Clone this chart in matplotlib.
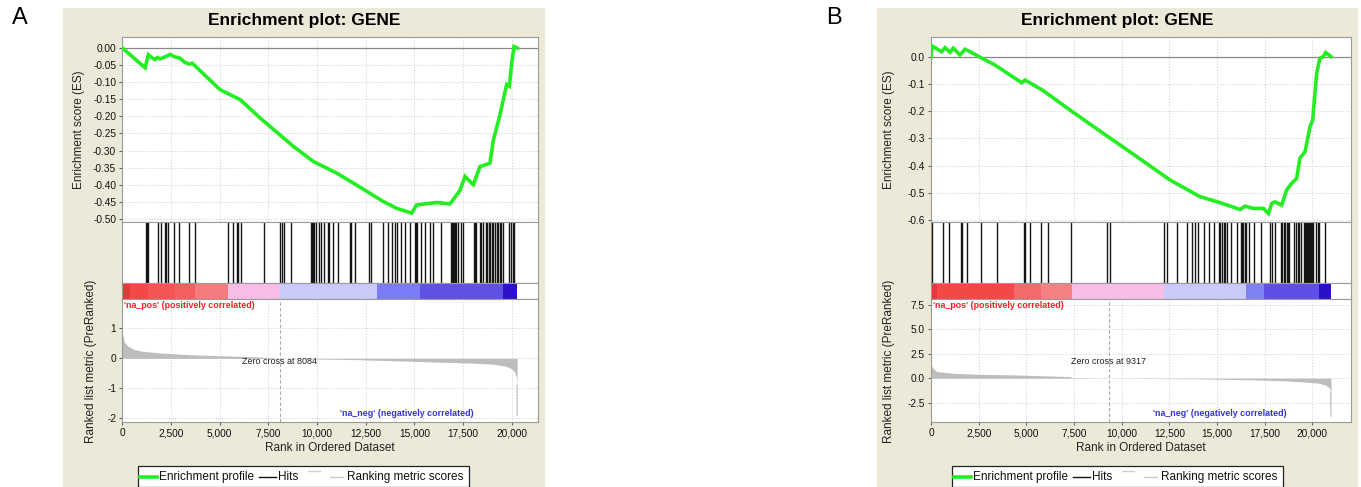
import matplotlib
matplotlib.use("Agg")
import matplotlib.pyplot as plt
from matplotlib.lines import Line2D
from matplotlib.patches import Rectangle
from matplotlib.ticker import FuncFormatter

plt.rcParams['font.family'] = ['Liberation Sans', 'DejaVu Sans']

# ---------------- data: panel A ----------------
a_n_genes = 20280
a_zero_cross = 8084
a_es_rank = [0, 1170, 1340, 1500, 1680, 1800, 1940, 2200, 2450, 2700, 2960, 3200, 3450,
             3600, 3730, 5020, 6050, 7080, 8790, 9810, 11010, 11860, 12720, 13400, 14090,
             14860, 15120, 16150, 16830, 17340, 17600, 18030, 18370, 18880, 19060, 19400,
             19740, 19880, 20000, 20120, 20280]
a_es_value = [0.0, -0.058, -0.020, -0.028, -0.034, -0.028, -0.032, -0.026, -0.019,
              -0.026, -0.030, -0.042, -0.047, -0.045, -0.052, -0.122, -0.151, -0.205,
              -0.288, -0.332, -0.366, -0.395, -0.425, -0.449, -0.469, -0.483, -0.459,
              -0.452, -0.456, -0.417, -0.376, -0.400, -0.347, -0.337, -0.269, -0.195,
              -0.107, -0.112, -0.044, 0.004, 0.0]
a_hits = [1220, 1285, 1340, 1820, 2000, 2180, 2260, 2360, 2630, 2910, 3440, 3740, 5420,
          5680, 5880, 5960, 6080, 7300, 8110, 8200, 8300, 8680, 9680, 9740, 9800, 9860,
          9930, 10100, 10220, 10360, 10570, 10620, 10820, 11080, 11680, 11760, 11940,
          12650, 12790, 13390, 13650, 13850, 14020, 14110, 14330, 14530, 14760, 15010,
          15060, 15100, 15140, 15360, 15560, 15790, 15960, 16380, 16870, 16930, 16990,
          17050, 17110, 17160, 17240, 17410, 17500, 18050, 18110, 18180, 18350, 18440,
          18530, 18690, 18750, 18820, 18900, 18980, 19060, 19140, 19220, 19300, 19380,
          19460, 19550, 19840, 19950, 20050, 20120]
a_metric_rank = [0, 100, 300, 600, 1000, 2000, 3000, 4000, 5000, 6000, 7000, 8084, 9000,
                 10000, 12000, 13000, 14000, 15000, 16000, 17000, 18000, 19000, 19700,
                 20000, 20150, 20250, 20275, 20280]
a_metric_value = [0.85, 0.55, 0.40, 0.30, 0.24, 0.18, 0.14, 0.11, 0.09, 0.07, 0.05, 0.0,
                  -0.01, -0.02, -0.04, -0.06, -0.08, -0.10, -0.12, -0.14, -0.16, -0.19,
                  -0.26, -0.35, -0.45, -0.65, -0.9, -1.9]
a_bar_edges = [0, 400, 1300, 2700, 3750, 5420, 8084, 13100, 15270, 19550, 20280]
a_bar_colors = ['#e63838', '#f34848', '#f35454', '#f46060', '#f57c7c', '#f8bde6',
                '#c9c9fa', '#7b7bf5', '#5f50e8', '#2d10c8']

# ---------------- data: panel B ----------------
b_n_genes = 20980
b_zero_cross = 9317
b_es_rank = [0, 35, 560, 735, 1000, 1170, 1520, 1780, 2050, 2570, 3360, 4760, 4930, 5890,
             7290, 9040, 10790, 12540, 14110, 15160, 16210, 16470, 16910, 17430, 17700,
             17870, 18040, 18390, 18650, 18920, 19180, 19350, 19620, 19880, 20020, 20230,
             20400, 20580, 20700, 20980]
b_es_value = [0.0, 0.040, 0.018, 0.033, 0.016, 0.031, 0.006, 0.027, 0.018, -0.002,
              -0.031, -0.096, -0.086, -0.125, -0.196, -0.282, -0.367, -0.453, -0.514,
              -0.536, -0.561, -0.549, -0.557, -0.557, -0.576, -0.539, -0.533, -0.545,
              -0.490, -0.465, -0.447, -0.373, -0.349, -0.257, -0.233, -0.061, -0.006,
              0.0, 0.015, 0.0]
b_hits = [35, 610, 960, 1570, 1630, 1870, 2620, 3450, 4860, 4910, 5210, 5770, 6120, 7340,
          9230, 9390, 12240, 12360, 12880, 13430, 13690, 13850, 13990, 14300, 14570,
          14860, 15090, 15170, 15260, 15350, 15440, 15530, 15730, 16050, 16260, 16320,
          16390, 16450, 16520, 16700, 16960, 17310, 17780, 17870, 18060, 18360, 18430,
          18500, 18580, 18650, 18720, 18790, 19060, 19150, 19240, 19320, 19410, 19580,
          19620, 19660, 19700, 19740, 19780, 19820, 19860, 19900, 19940, 19980, 20020,
          20190, 20280, 20370, 20680]
b_metric_rank = [0, 100, 300, 1170, 2500, 4300, 6000, 7250, 7400, 9317, 12300, 14270,
                 16900, 18500, 19500, 20300, 20700, 20900, 20960, 20980]
b_metric_value = [1.45, 1.0, 0.68, 0.50, 0.40, 0.34, 0.24, 0.17, 0.05, 0.0, -0.04,
                  -0.07, -0.17, -0.26, -0.38, -0.5, -0.7, -1.0, -1.5, -3.9]
b_bar_edges = [0, 320, 4370, 5770, 7400, 12200, 16520, 17480, 20370, 20980]
b_bar_colors = ['#e63838', '#f34848', '#f46a6a', '#f58282', '#f8bde6', '#cacafa',
                '#8080f5', '#5f4fe8', '#2a10c8']

legend_labels = ['Enrichment profile', 'Hits', 'Ranking metric scores']

# ---------------- figure ----------------
W, H = 1361, 487
fig = plt.figure(figsize=(W / 100, H / 100), dpi=100)
fig.patch.set_facecolor('white')

GREEN = '#22ee22'
SPINE = '#9a9a9a'


def fx(px):
    return px / W


def fy(py):
    return 1 - py / H


def comma_fmt(v, pos):
    return f"{int(round(v)):,}"


def style_axes(ax):
    ax.set_facecolor('white')
    ax.set_zorder(2)
    for s in ax.spines.values():
        s.set_color(SPINE)
        s.set_linewidth(0.8)
    ax.tick_params(colors='#444444', labelcolor='#111111', labelsize=7.3, length=2.5,
                   width=0.6, pad=2)


def seg(x0, x1, y, color, lw):
    fig.add_artist(Line2D([fx(x0), fx(x1)], [fy(y), fy(y)], color=color, lw=lw,
                          transform=fig.transFigure, zorder=6))


def draw_legend(x0):
    fig.add_artist(Rectangle((fx(x0), 0), fx(331), fy(466), transform=fig.transFigure,
                             facecolor='white', edgecolor='#222222', lw=0.9, zorder=5))
    seg(x0 + 2, x0 + 19, 477, GREEN, 2.6)
    fig.text(fx(x0 + 21), fy(477), legend_labels[0], fontsize=8.5, ha='left',
             va='center', color='#111111', zorder=6)
    seg(x0 + 121, x0 + 138, 477, '#111111', 1.0)
    fig.text(fx(x0 + 140), fy(477), legend_labels[1], fontsize=8.5, ha='left',
             va='center', color='#111111', zorder=6)
    seg(x0 + 170, x0 + 182, 471, '#cfcfcf', 1.0)
    seg(x0 + 192, x0 + 205, 477, '#c8c8c8', 1.0)
    fig.text(fx(x0 + 209), fy(477), legend_labels[2], fontsize=8.5, ha='left',
             va='center', color='#111111', zorder=6)


def draw_panel(letter, beige_x0, beige_x1, ax_x0, ax_x1, xmax, es_rank, es_val,
               es_ylim, es_ticks, es_fmt, hits, n_genes, bar_edges, bar_colors,
               m_rank, m_val, m_ylim, m_ticks, m_fmt, zero_cross, xticks):
    # beige panel
    fig.patches.append(Rectangle((fx(beige_x0), 0), fx(beige_x1 - beige_x0), fy(8),
                                 transform=fig.transFigure, facecolor='#ece9d8',
                                 edgecolor='none', zorder=-10))
    fig.text(fx(beige_x0 - 51), fy(18), letter, fontsize=17, ha='left', va='center')
    fig.text(fx((beige_x0 + beige_x1) / 2), fy(20), 'Enrichment plot: GENE',
             fontsize=12.5, fontweight='bold', ha='center', va='center')

    left = fx(ax_x0)
    width = fx(ax_x1 - ax_x0)

    # ES axes
    ax_es = fig.add_axes([left, fy(222), width, (222 - 37) / H])
    style_axes(ax_es)
    ax_es.plot(es_rank, es_val, color=GREEN, lw=2.6, solid_joinstyle='miter', zorder=3)
    ax_es.axhline(0, color='#888888', lw=0.9, zorder=2)
    ax_es.set_xlim(0, xmax)
    ax_es.set_ylim(*es_ylim)
    ax_es.set_yticks(es_ticks)
    ax_es.yaxis.set_major_formatter(FuncFormatter(es_fmt))
    ax_es.set_xticks(xticks)
    ax_es.tick_params(axis='x', length=0, labelbottom=False)
    ax_es.grid(True, color='#cfcfcf', lw=0.6, ls=(0, (1.5, 2)))
    ax_es.set_axisbelow(True)
    ax_es.set_ylabel('Enrichment score (ES)', fontsize=8.5, color='#222222')

    # hits axes
    ax_h = fig.add_axes([left, fy(283), width, (283 - 222) / H])
    style_axes(ax_h)
    ax_h.vlines(hits, 0, 1, color='#151515', lw=1.0)
    ax_h.set_xlim(0, xmax)
    ax_h.set_ylim(0, 1)
    ax_h.set_xticks([])
    ax_h.set_yticks([])

    # colour bar axes
    ax_b = fig.add_axes([left, fy(299), width, (299 - 283) / H])
    style_axes(ax_b)
    for i, c in enumerate(bar_colors):
        ax_b.axvspan(bar_edges[i], bar_edges[i + 1], color=c, lw=0)
    ax_b.set_xlim(0, xmax)
    ax_b.set_ylim(0, 1)
    ax_b.set_xticks([])
    ax_b.set_yticks([])

    # ranked metric axes
    ax_m = fig.add_axes([left, fy(422), width, (422 - 299) / H])
    style_axes(ax_m)
    ax_m.fill_between(m_rank, m_val, 0, color='#bdbdbd', lw=0, zorder=2)
    ax_m.plot(m_rank[-2:], m_val[-2:], color='#bdbdbd', lw=0.8, zorder=2)
    ax_m.set_xlim(0, xmax)
    ax_m.set_ylim(*m_ylim)
    ax_m.set_yticks(m_ticks)
    ax_m.yaxis.set_major_formatter(FuncFormatter(m_fmt))
    ax_m.set_xticks(xticks)
    ax_m.xaxis.set_major_formatter(FuncFormatter(comma_fmt))
    ax_m.grid(True, color='#cfcfcf', lw=0.6, ls=(0, (1.5, 2)))
    ax_m.set_axisbelow(True)
    ax_m.axvline(zero_cross, color='#aaaaaa', lw=0.8, ls=(0, (3, 2)), zorder=3)
    ax_m.text(0.004, 0.985, "'na_pos' (positively correlated)", transform=ax_m.transAxes,
              color='#ee2222', fontsize=6.4, fontweight='bold', ha='left', va='top')
    ax_m.text(0.846, 0.073, "'na_neg' (negatively correlated)", transform=ax_m.transAxes,
              color='#3333dd', fontsize=6.4, fontweight='bold', ha='right', va='center')
    ax_m.text(zero_cross, (422 - 361) / 123, f'Zero cross at {zero_cross}',
              transform=ax_m.get_xaxis_transform(), fontsize=6.5, color='#222222',
              ha='center', va='center', zorder=4)
    ax_m.set_xlabel('Rank in Ordered Dataset', fontsize=8.5, color='#222222', labelpad=3)
    ax_m.set_ylabel('Ranked list metric (PreRanked)', fontsize=8.5, color='#222222')
    return ax_es, ax_m


ax_es_a, ax_m_a = draw_panel(
    'A', 63, 545, 122.3, 538, 21350, a_es_rank, a_es_value, (-0.509, 0.032),
    [-0.50, -0.45, -0.40, -0.35, -0.30, -0.25, -0.20, -0.15, -0.10, -0.05, 0.00],
    lambda v, p: f"{v:.2f}", a_hits, a_n_genes, a_bar_edges, a_bar_colors,
    a_metric_rank, a_metric_value, (-2.12, 1.98), [-2, -1, 0, 1],
    lambda v, p: f"{int(round(v))}", a_zero_cross,
    [0, 2500, 5000, 7500, 10000, 12500, 15000, 17500, 20000])
ax_es_a.yaxis.set_label_coords(-0.09, 0.5)
ax_m_a.yaxis.set_label_coords(-0.062, 0.49)

ax_es_b, ax_m_b = draw_panel(
    'B', 877, 1358, 931, 1351, 22030, b_es_rank, b_es_value, (-0.607, 0.072),
    [-0.6, -0.5, -0.4, -0.3, -0.2, -0.1, 0.0],
    lambda v, p: f"{v:.1f}", b_hits, b_n_genes, b_bar_edges, b_bar_colors,
    b_metric_rank, b_metric_value, (-4.48, 8.1), [-2.5, 0.0, 2.5, 5.0, 7.5],
    lambda v, p: f"{v:.1f}", b_zero_cross,
    [0, 2500, 5000, 7500, 10000, 12500, 15000, 17500, 20000])
ax_es_b.yaxis.set_label_coords(-0.086, 0.5)
ax_m_b.yaxis.set_label_coords(-0.086, 0.49)

draw_legend(138)
draw_legend(952)

fig.savefig('out.png', dpi=100)
